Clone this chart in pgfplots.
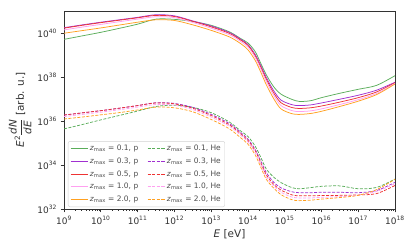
\documentclass[border=0pt]{standalone}
\usepackage{amsmath}
\usepackage{fontspec}
\setmainfont{DejaVu Sans}
\usepackage{pgfplots}
\usepackage{pgfplotstable}
\pgfplotsset{compat=1.18}
\usetikzlibrary{calc}
\definecolor{cg}{HTML}{5AAD5A}
\definecolor{cpu}{HTML}{A030D0}
\definecolor{cr}{HTML}{EE3333}
\definecolor{cpk}{HTML}{FFA0F0}
\definecolor{co}{HTML}{FFA020}
\definecolor{fr}{HTML}{333333}

\pgfplotstableread{
E g pu r pk o
1e9 5.129e39 1.738e40 1.660e40 1.380e40 9.772e39
3.162e9 7.413e39 2.344e40 2.239e40 1.862e40 1.288e40
1e10 1.072e40 3.090e40 2.951e40 2.455e40 1.698e40
3.162e10 1.622e40 3.981e40 3.802e40 3.236e40 2.291e40
1e11 2.512e40 5.129e40 4.898e40 4.266e40 3.090e40
3.162e11 4.266e40 6.761e40 6.310e40 5.495e40 3.981e40
1e12 4.169e40 6.026e40 5.623e40 5.012e40 3.715e40
3.162e12 3.311e40 3.548e40 3.388e40 3.020e40 2.344e40
1e13 2.239e40 2.089e40 1.905e40 1.660e40 1.318e40
3.162e13 1.122e40 1.047e40 9.550e39 8.318e39 6.607e39
6.310e13 5.623e39 5.248e39 4.786e39 4.169e39 3.311e39
1e14 3.548e39 3.020e39 2.754e39 2.291e39 1.738e39
1.585e14 1.413e39 1.047e39 9.120e38 7.586e38 5.623e38
2.239e14 4.169e38 3.311e38 2.818e38 2.291e38 1.660e38
3.162e14 1.259e38 9.550e37 7.943e37 6.310e37 4.467e37
5.012e14 3.631e37 2.399e37 1.905e37 1.479e37 1.047e37
7.943e14 1.660e37 8.913e36 6.761e36 5.012e36 3.548e36
1.585e15 9.550e36 5.495e36 4.074e36 2.951e36 2.138e36
2.512e15 7.762e36 5.012e36 3.715e36 2.692e36 1.995e36
5.012e15 8.318e36 5.370e36 3.981e36 2.884e36 2.188e36
1e16 1.148e37 6.607e36 4.786e36 3.548e36 2.754e36
3.162e16 1.820e37 9.772e36 7.244e36 5.623e36 4.571e36
1e17 2.754e37 1.479e37 1.148e37 9.333e36 7.943e36
3.162e17 4.169e37 2.512e37 2.089e37 1.778e37 1.585e37
1e18 1.148e38 5.754e37 5.495e37 5.129e37 4.786e37
}\tabP

\pgfplotstableread{
E g pu r pk o
1e9 4.365e35 1.862e36 1.862e36 1.585e36 1.230e36
3.162e9 6.918e35 2.344e36 2.344e36 1.995e36 1.514e36
1e10 1.122e36 2.951e36 2.951e36 2.512e36 1.905e36
3.162e10 1.778e36 3.802e36 3.802e36 3.236e36 2.399e36
1e11 2.818e36 5.012e36 5.012e36 4.266e36 3.162e36
3.162e11 4.571e36 6.761e36 6.607e36 5.623e36 4.266e36
1e12 5.248e36 6.310e36 6.026e36 5.248e36 3.981e36
3.162e12 4.169e36 4.169e36 3.802e36 3.311e36 2.630e36
1e13 2.399e36 1.995e36 1.778e36 1.514e36 1.175e36
3.162e13 8.913e35 7.586e35 6.607e35 5.754e35 4.365e35
6.310e13 3.548e35 3.020e35 2.630e35 2.291e35 1.738e35
1e14 1.995e35 1.514e35 1.318e35 1.122e35 8.913e34
1.585e14 7.079e34 5.012e34 4.365e34 3.631e34 2.818e34
2.239e14 2.239e34 1.514e34 1.259e34 1.047e34 7.943e33
3.162e14 6.607e33 4.571e33 3.631e33 2.884e33 2.239e33
5.012e14 2.818e33 1.660e33 1.318e33 1.122e33 8.913e32
7.943e14 1.585e33 9.120e32 7.244e32 5.754e32 4.467e32
1.585e15 9.333e32 6.026e32 4.365e32 3.467e32 2.630e32
2.512e15 8.318e32 5.495e32 3.981e32 3.162e32 2.399e32
5.012e15 9.333e32 5.495e32 3.981e32 3.162e32 2.512e32
1e16 1.072e33 5.754e32 4.074e32 3.388e32 2.818e32
3.162e16 1.122e33 5.754e32 4.169e32 3.631e32 3.311e32
1e17 8.318e32 5.495e32 4.365e32 4.266e32 4.169e32
3.162e17 9.550e32 6.918e32 5.012e32 6.310e32 7.586e32
1e18 2.291e33 1.622e33 1.175e33 1.413e33 2.239e33
}\tabHe

\begin{document}
\begin{tikzpicture}
\begin{axis}[
  name=ax,
  scale only axis,
  width=331bp, height=198bp,
  xmode=log, ymode=log,
  xmin=1e9, xmax=1e18,
  ymin=1e32, ymax=1e41,
  xtick={1e9,1e10,1e11,1e12,1e13,1e14,1e15,1e16,1e17,1e18},
  xticklabels={10\textsuperscript{9},10\textsuperscript{10},10\textsuperscript{11},10\textsuperscript{12},10\textsuperscript{13},10\textsuperscript{14},10\textsuperscript{15},10\textsuperscript{16},10\textsuperscript{17},10\textsuperscript{18}},
  ytick={1e32,1e34,1e36,1e38,1e40},
  yticklabels={10\textsuperscript{32},10\textsuperscript{34},10\textsuperscript{36},10\textsuperscript{38},10\textsuperscript{40}},
  yminorticks=false,
  tick align=outside,
  tick pos=left,
  major tick length=3.5bp,
  minor tick length=2bp,
  every tick/.style={fr, line width=0.6pt},
  axis line style={fr, line width=0.8pt},
  ticklabel style={font=\fontsize{9}{10}\selectfont, text=fr},
  xlabel={\textit{E} [eV]},
  ylabel={\textit{E}\textsuperscript{2}$\dfrac{\text{\itshape dN}}{\text{\itshape dE}}$ [arb. u.]},
  label style={font=\fontsize{10.5}{12}\selectfont, text=fr},
  xlabel style={yshift=2bp},
  ylabel style={yshift=-1bp},
  legend columns=2,
  legend cell align=left,
  legend style={at={(0.012,0.01)}, anchor=south west,
    draw=gray!35, rounded corners=2pt, fill=white, fill opacity=0.8, text opacity=1,
    font=\fontsize{7.5}{8.5}\selectfont, text=black!70,
    inner sep=2pt, row sep=1.6bp,
    /tikz/every even column/.append style={column sep=7bp}},
  every axis plot/.append style={line width=0.75pt, smooth},
]
\addplot[cg] table[x=E,y=g] {\tabP};
\addlegendentry{\textit{z}\textsubscript{max} = 0.1, p}
\addplot[cg, dash pattern=on 3bp off 1.5bp] table[x=E,y=g] {\tabHe};
\addlegendentry{\textit{z}\textsubscript{max} = 0.1, He}
\addplot[cpu] table[x=E,y=pu] {\tabP};
\addlegendentry{\textit{z}\textsubscript{max} = 0.3, p}
\addplot[cpu, dash pattern=on 3bp off 1.5bp] table[x=E,y=pu] {\tabHe};
\addlegendentry{\textit{z}\textsubscript{max} = 0.3, He}
\addplot[cr] table[x=E,y=r] {\tabP};
\addlegendentry{\textit{z}\textsubscript{max} = 0.5, p}
\addplot[cr, dash pattern=on 3bp off 1.5bp] table[x=E,y=r] {\tabHe};
\addlegendentry{\textit{z}\textsubscript{max} = 0.5, He}
\addplot[cpk] table[x=E,y=pk] {\tabP};
\addlegendentry{\textit{z}\textsubscript{max} = 1.0, p}
\addplot[cpk, dash pattern=on 3bp off 1.5bp] table[x=E,y=pk] {\tabHe};
\addlegendentry{\textit{z}\textsubscript{max} = 1.0, He}
\addplot[co] table[x=E,y=o] {\tabP};
\addlegendentry{\textit{z}\textsubscript{max} = 2.0, p}
\addplot[co, dash pattern=on 3bp off 1.5bp] table[x=E,y=o] {\tabHe};
\addlegendentry{\textit{z}\textsubscript{max} = 2.0, He}
\end{axis}
\path ($(ax.south west)+(-64bp,-41bp)$) rectangle ($(ax.north east)+(16bp,11bp)$);
\end{tikzpicture}
\end{document}
